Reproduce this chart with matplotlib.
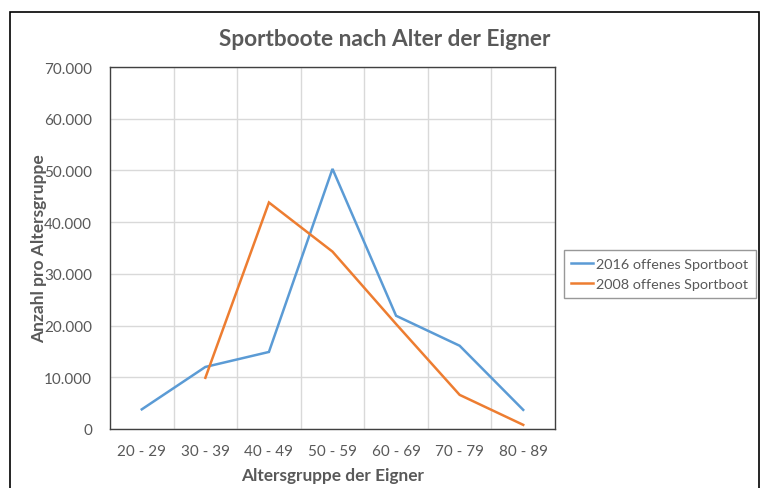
import numpy as np
from matplotlib import pyplot as plt
from matplotlib.patches import Rectangle
from matplotlib.ticker import FuncFormatter, MultipleLocator

plt.rcParams['font.family'] = ['Lato', 'DejaVu Sans']

categories = ["20 - 29", "30 - 39", "40 - 49", "50 - 59", "60 - 69", "70 - 79", "80 - 89"]
boote_2016 = [3800, 12000, 14900, 50300, 21900, 16100, 3700]
boote_2008 = [np.nan, 9900, 43800, 34300, 20300, 6600, 800]

grey = "#595959"
x = np.arange(len(categories))

fig = plt.figure(figsize=(7.65, 4.89), dpi=100)
ax = fig.add_axes([110/765, 1 - 430/489, 445/765, 362/489])

ax.plot(x, boote_2016, color="#5B9BD5", lw=1.8, label="2016 offenes Sportboot", solid_joinstyle="miter")
ax.plot(x, boote_2008, color="#ED7D31", lw=1.8, label="2008 offenes Sportboot", solid_joinstyle="miter")

ax.set_xlim(-0.5, len(categories) - 0.5)
ax.set_ylim(0, 70000)
ax.set_xticks(x)
ax.set_xticklabels(categories)
ax.set_xticks(x[:-1] + 0.5, minor=True)
ax.yaxis.set_major_locator(MultipleLocator(10000))
ax.yaxis.set_major_formatter(FuncFormatter(lambda v, p: "0" if v == 0 else "{:,.0f}".format(v).replace(",", ".")))

ax.grid(axis="y", which="major", color="#d9d9d9", lw=1)
ax.grid(axis="x", which="minor", color="#d9d9d9", lw=1)
ax.set_axisbelow(True)
ax.tick_params(axis="both", which="both", length=0, colors=grey, labelsize=11)
ax.tick_params(axis="x", pad=11)
ax.tick_params(axis="y", pad=13)
for s in ax.spines.values():
    s.set_color("#404040")
    s.set_linewidth(1.0)

ax.set_xlabel("Altersgruppe der Eigner", color=grey, fontsize=12.4, fontweight="bold", labelpad=6)
ax.set_ylabel("Anzahl pro Altersgruppe", color=grey, fontsize=12.5, fontweight="bold", labelpad=-2)
fig.text(385/765, 1 - 39/489, "Sportboote nach Alter der Eigner", ha="center", va="center",
         color=grey, fontsize=16.3, fontweight="bold")

leg = fig.legend(loc="center left", bbox_to_anchor=(564/765, 1 - 275/489), fontsize=10.4,
                 frameon=True, fancybox=False, borderpad=0.5, handlelength=1.5,
                 handletextpad=0.25, labelspacing=0.6, borderaxespad=0)
leg.get_frame().set_edgecolor("#7f7f7f")
leg.get_frame().set_linewidth(1.0)
for t in leg.get_texts():
    t.set_color(grey)

fig.patches.append(Rectangle((10/765, -0.1), 749/765, 1.1 - 13/489, transform=fig.transFigure,
                             fill=False, edgecolor="black", lw=1.2))

plt.savefig("out.png", dpi=100)
